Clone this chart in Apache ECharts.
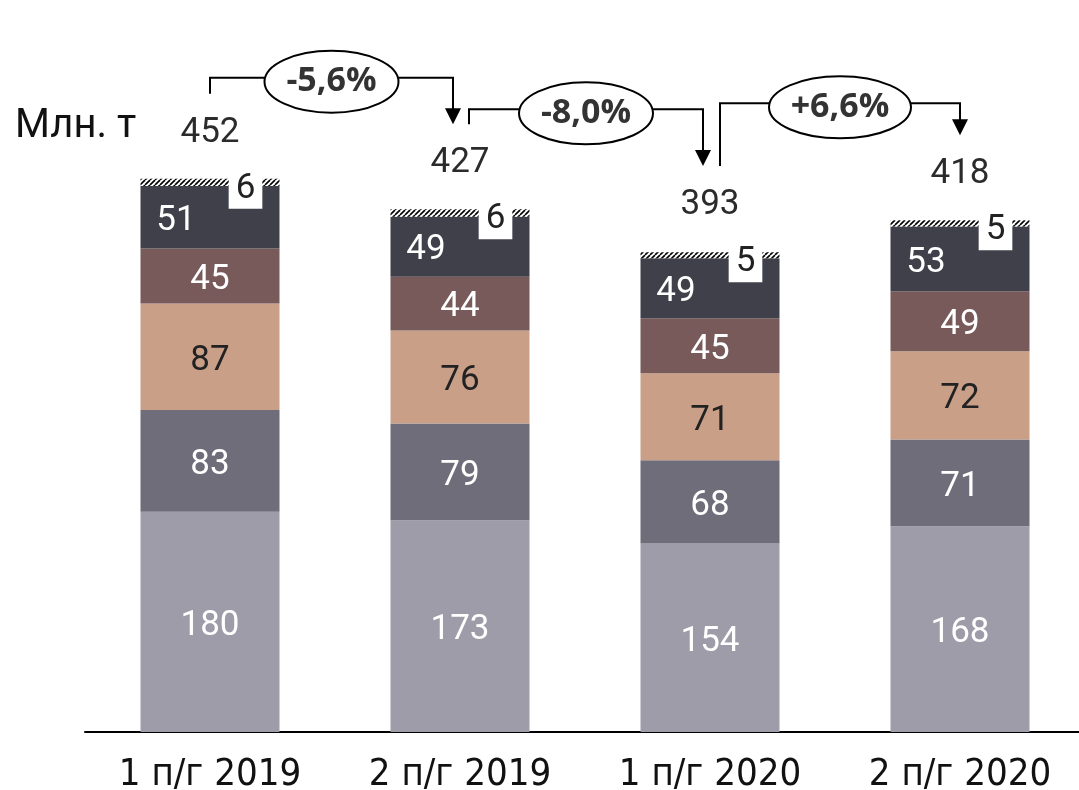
<!DOCTYPE html>
<html>
<head>
<meta charset="utf-8">
<script src="https://cdn.jsdelivr.net/npm/echarts@6/dist/echarts.min.js"></script>
<style>
  html, body { margin: 0; padding: 0; background: #fff; }
  #main { width: 1079px; height: 790px; }
</style>
</head>
<body>
<div id="main"></div>
<script>
// categories and values, bottom segment first
var categories = ['1 п/г 2019', '2 п/г 2019', '1 п/г 2020', '2 п/г 2020'];
var seg1 = [180, 173, 154, 168];
var seg2 = [83, 79, 68, 71];
var seg3 = [87, 76, 71, 72];
var seg4 = [45, 44, 45, 49];
var seg5 = [51, 49, 49, 53];
var seg6 = [6, 6, 5, 5];
var totals = [452, 427, 393, 418];
var changes = ['-5,6%', '-8,0%', '+6,6%'];

var colors = ['#9e9ca9', '#6f6d7a', '#c99f88', '#785a5a', '#40404a'];
var font = 'Roboto';

// hatch for the thin top segment
function hatch() {
    var c = document.createElement('canvas');
    c.width = 5; c.height = 5;
    var ctx = c.getContext('2d');
    ctx.fillStyle = '#fff';
    ctx.fillRect(0, 0, 5, 5);
    ctx.strokeStyle = '#000';
    ctx.lineWidth = 1.6;
    for (var k = -5; k <= 5; k += 5) {
        ctx.beginPath();
        ctx.moveTo(k, 5);
        ctx.lineTo(k + 5, 0);
        ctx.stroke();
    }
    return c;
}

function segment(data, color, labelColor, dx) {
    return {
        type: 'bar',
        stack: 'all',
        barWidth: 139,
        data: data,
        itemStyle: { color: color },
        label: {
            show: true,
            position: 'inside',
            offset: [dx || 0, 4],
            color: labelColor,
            fontFamily: font,
            fontSize: 35
        }
    };
}

var dom = document.getElementById('main');
var myChart = echarts.init(dom);

var option = {
    animation: false,
    grid: { left: 85, width: 1000, top: 120, bottom: 58, outerBoundsMode: 'none' },
    xAxis: {
        type: 'category',
        data: categories,
        axisTick: { show: false },
        axisLine: { lineStyle: { color: '#000', width: 2 } },
        axisLabel: {
            color: '#111',
            fontFamily: '"DejaVu Sans Condensed", Roboto, sans-serif',
            fontSize: 38,
            margin: 24
        }
    },
    yAxis: { type: 'value', min: 0, max: 500, show: false },
    series: [
        segment(seg1, colors[0], '#fff'),
        segment(seg2, colors[1], '#fff'),
        segment(seg3, colors[2], '#222'),
        segment(seg4, colors[3], '#fff'),
        segment(seg5, colors[4], '#fff', -34),
        {
            type: 'bar',
            stack: 'all',
            barWidth: 139,
            data: seg6,
            itemStyle: { color: { image: hatch(), repeat: 'repeat' } },
            label: {
                show: true,
                position: [105, -7],
                align: 'center',
                verticalAlign: 'top',
                color: '#222',
                backgroundColor: '#fff',
                padding: [0, 7, 3, 7],
                lineHeight: 34,
                fontFamily: font,
                fontSize: 35
            }
        },
        {
            type: 'scatter',
            data: totals,
            symbolSize: 1,
            itemStyle: { color: 'rgba(0,0,0,0)', opacity: 1 },
            label: {
                show: true,
                position: 'top',
                distance: 28,
                color: '#2b2b2b',
                fontFamily: font,
                fontSize: 35
            }
        }
    ]
};
myChart.setOption(option);

// change annotations: bracket arrows with an ellipse in the middle
var startOff = [0, 9, 10];
var endOff = [-7, -7, 0];
var rise = [16, 15, 32];
var rx = [67, 67, 71];
var graphics = [{
    type: 'text',
    left: 15,
    top: 107,
    style: { text: 'Млн. т', fill: '#111', font: '40px Roboto' }
}];
for (var i = 0; i < changes.length; i++) {
    var a = myChart.convertToPixel({ gridIndex: 0 }, [i, totals[i]]);
    var b = myChart.convertToPixel({ gridIndex: 0 }, [i + 1, totals[i + 1]]);
    var xs = a[0] + startOff[i], ys = a[1] - 85;
    var xe = b[0] + endOff[i], ye = b[1] - 85;
    var ly = Math.min(ys, ye) - rise[i];
    graphics.push({
        type: 'polyline',
        shape: { points: [[xs, ys], [xs, ly], [xe, ly], [xe, ye - 15]] },
        style: { stroke: '#000', lineWidth: 2, fill: null }
    });
    graphics.push({
        type: 'polygon',
        shape: { points: [[xe - 8, ye - 16], [xe + 8, ye - 16], [xe, ye]] },
        style: { fill: '#000' }
    });
    graphics.push({
        type: 'ellipse',
        shape: { cx: (xs + xe) / 2, cy: ly + 4, rx: rx[i], ry: 31 },
        style: { fill: '#fff', stroke: '#000', lineWidth: 2 }
    });
    graphics.push({
        type: 'text',
        x: (xs + xe) / 2,
        y: ly + 4,
        style: {
            text: changes[i],
            fill: '#333',
            font: 'bold 34px "Open Sans"',
            align: 'center',
            verticalAlign: 'middle'
        }
    });
}
myChart.setOption({ graphic: graphics });
</script>
</body>
</html>
